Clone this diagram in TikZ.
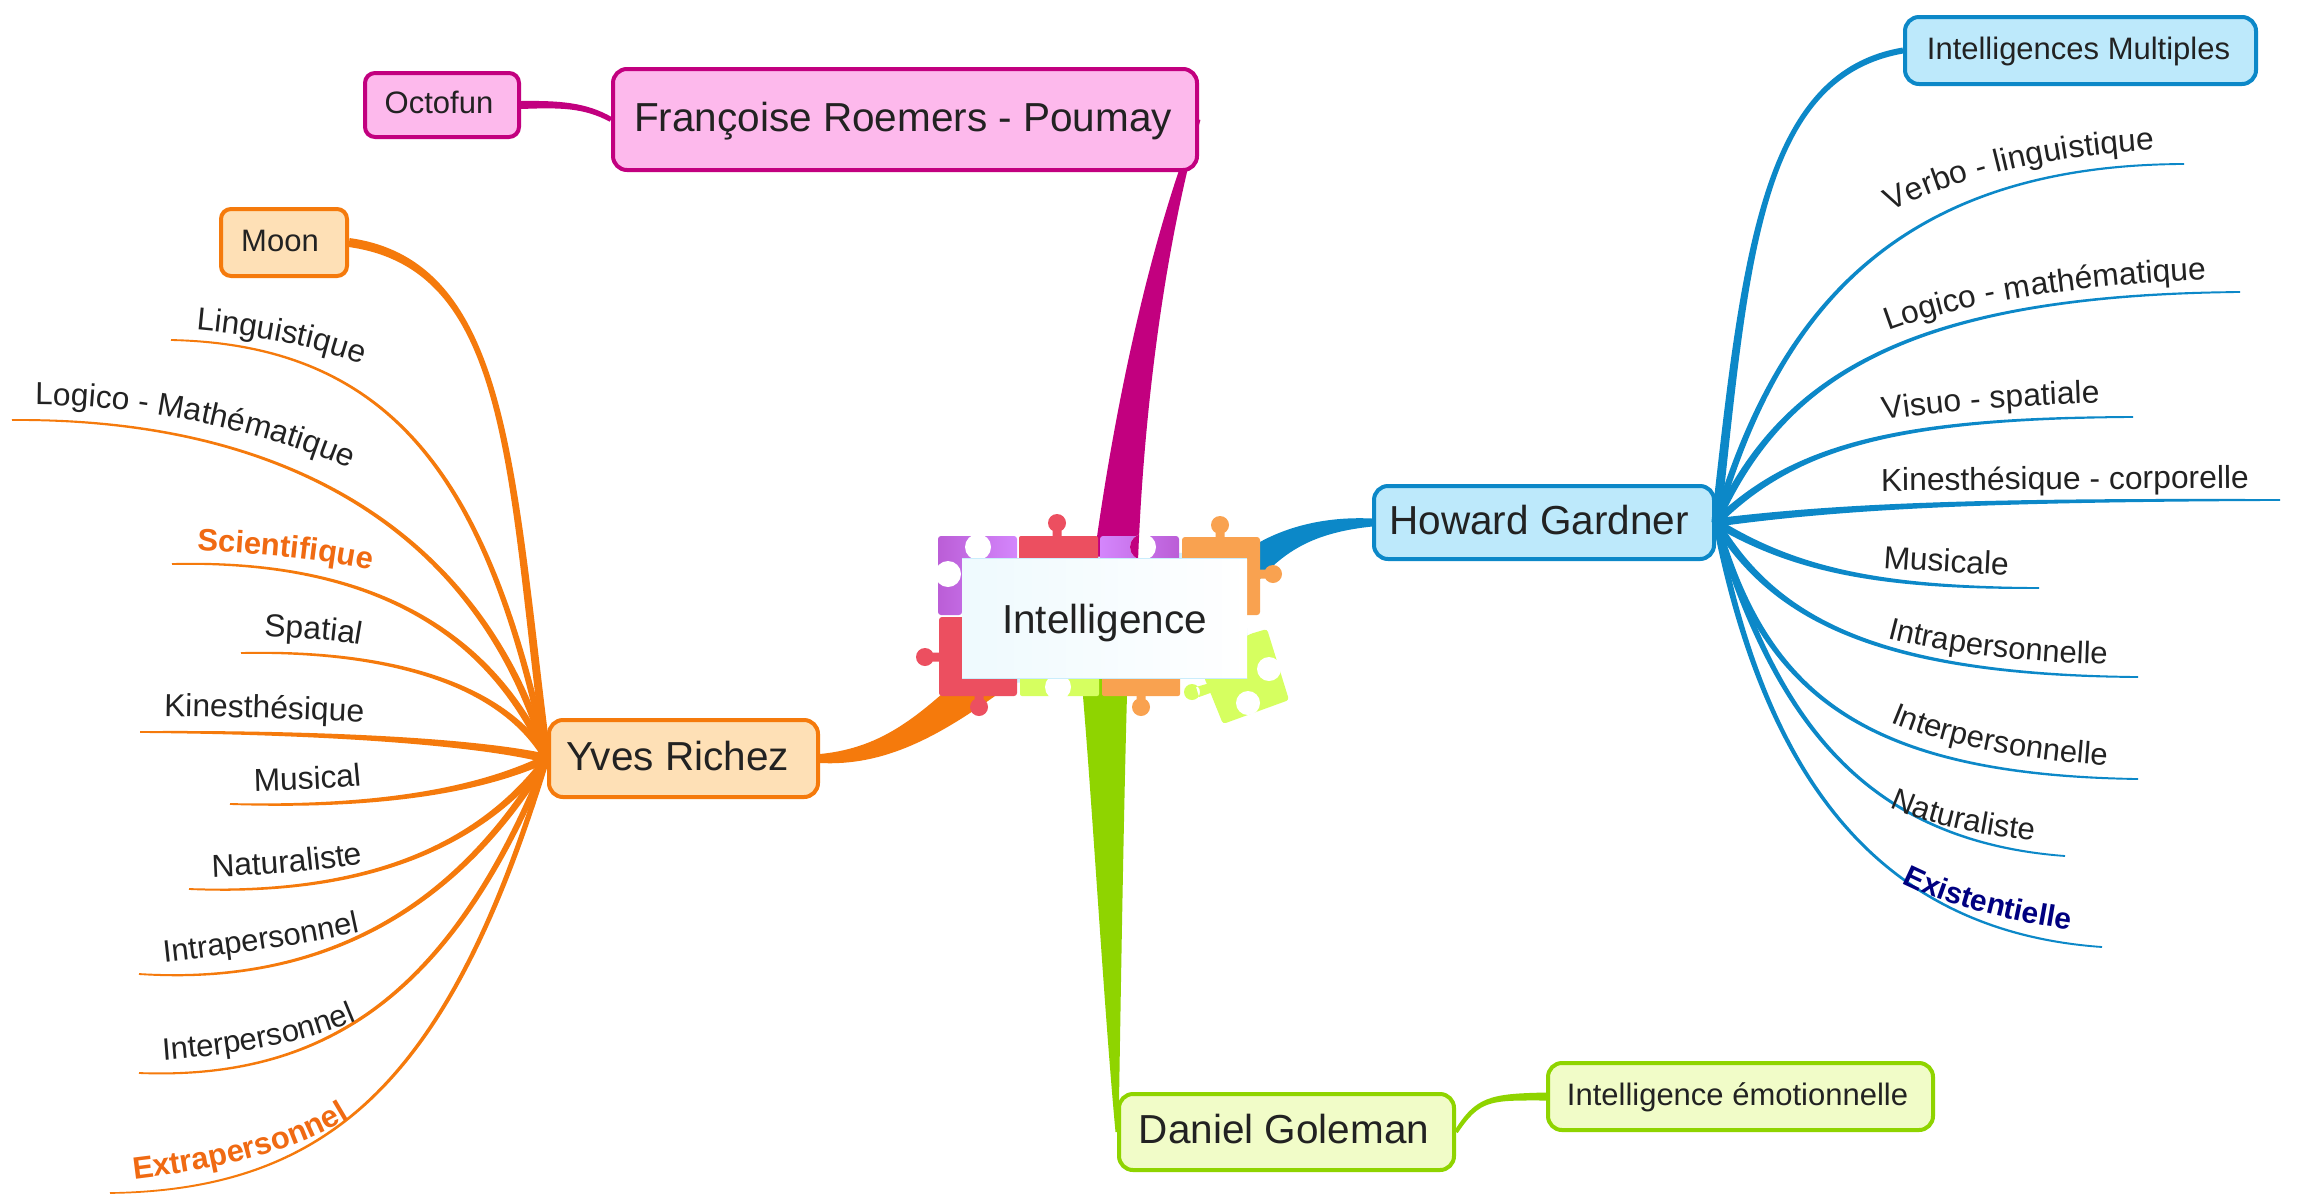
\documentclass[tikz,border=0pt]{standalone}
\usepackage{fontspec}
\setmainfont{Liberation Sans}
\usetikzlibrary{calc,decorations.text}
\pgfdeclarelayer{paper}
\pgfdeclarelayer{conn}
\pgfdeclarelayer{puzzle}
\pgfsetlayers{paper,conn,puzzle,main}
\definecolor{tx}{HTML}{222222}
\definecolor{orgL}{HTML}{F57A0C}
\definecolor{orgT}{HTML}{F06A12}
\definecolor{orgF}{HTML}{FEE0B6}
\definecolor{bluL}{HTML}{0C88C8}
\definecolor{bluF}{HTML}{BDE9FB}
\definecolor{magL}{HTML}{C2007F}
\definecolor{magF}{HTML}{FDB9EC}
\definecolor{grnL}{HTML}{8FD400}
\definecolor{grnF}{HTML}{F1FCC8}
\definecolor{nav}{HTML}{000080}
\definecolor{pzP}{HTML}{D486FC}
\definecolor{pzR}{HTML}{EC4F60}
\definecolor{pzO}{HTML}{F9A250}
\definecolor{pzG}{HTML}{D6FF60}
\newcommand\fmain{\fontsize{40.5}{48}\selectfont}
\newcommand\fsub{\fontsize{31}{37}\selectfont}
\newcommand\flab{\fontsize{31}{37}\selectfont\color{tx}}
\newcommand\flabB{\fontsize{31.8}{37}\selectfont\color{tx}}
\newcommand\flabO{\fontsize{31}{37}\selectfont\bfseries\color{orgT}}
\newcommand\flabN{\fontsize{30}{37}\selectfont\bfseries\color{nav}}
\newcommand\tapered[7]{%
  \pgfmathsetmacro\wa{#6+(#7-#6)/3}%
  \pgfmathsetmacro\wb{#6+2*(#7-#6)/3}%
  \fill[#1] let \p0=(#2),\p1=(#3),\p2=(#4),\p3=(#5),
    \n0={atan2(\y1-\y0,\x1-\x0)},\n1={atan2(\y3-\y2,\x3-\x2)} in
    ($(#2)+(\n0+90:#6pt)$) .. controls ($(#3)+(\n0+90:\wa pt)$) and ($(#4)+(\n1+90:\wb pt)$) .. ($(#5)+(\n1+90:#7pt)$)
    -- ($(#5)+(\n1-90:#7pt)$) .. controls ($(#4)+(\n1-90:\wb pt)$) and ($(#3)+(\n0-90:\wa pt)$) .. ($(#2)+(\n0-90:#6pt)$) -- cycle;}
\newcommand\curvelab[7]{%
  \path[decorate,decoration={text along path,text={|#1|#2}}]
    (#3) .. controls (#4) and (#5) .. (#6) -- ++(#7);}
\tikzset{
  box/.style 2 args={fill=#1,draw=#2,rounded corners=14pt,line width=4pt,inner sep=0pt,text=tx},
  mainbox/.style={font=\fmain,text height=29pt,text depth=6pt},
  subbox/.style={font=\fsub,text height=23pt,text depth=6pt},
  hole/.style={fill=white,draw=none},
}
\begin{document}
\begin{tikzpicture}[x=1pt,y=-1pt]
\useasboundingbox (0,0) rectangle (2298,1195);
\begin{pgfonlayer}{paper}
\fill[white] (0,0) rectangle (2298,1195);
\end{pgfonlayer}

% ---- nodes
\node[left color=bluF!25,right color=white,inner sep=0pt,minimum width=285pt,minimum height=119pt,
      font=\fmain,text=tx,text height=29pt,text depth=0pt] (central) at (1104.5,618.5) {Intelligence};
\node[box={magF}{magL},mainbox,minimum width=584pt,minimum height=101pt] (francoise) at (905,119.5) {Françoise Roemers - Poumay\kern4pt};
\node[box={magF}{magL},subbox,minimum width=154pt,minimum height=64pt,rounded corners=10pt] (octofun) at (442,105) {Octofun\kern6pt};
\node[box={orgF}{orgL},subbox,minimum width=126pt,minimum height=67pt,rounded corners=10pt] (moon) at (284,242.5) {Moon\kern8pt};
\node[box={orgF}{orgL},mainbox,minimum width=269pt,minimum height=77pt] (yves) at (683.5,758.5) {Yves Richez\kern12pt};
\node[box={bluF}{bluL},mainbox,minimum width=340pt,minimum height=73pt] (howard) at (1544,522.5) {Howard Gardner\kern10pt};
\node[box={bluF}{bluL},subbox,minimum width=351pt,minimum height=67pt] (multiples) at (2080.5,50.5) {Intelligences Multiples\kern4pt};
\node[box={grnF}{grnL},mainbox,minimum width=335pt,minimum height=76pt] (daniel) at (1286.5,1132) {Daniel Goleman\kern5pt};
\node[box={grnF}{grnL},subbox,minimum width=385pt,minimum height=67pt] (emo) at (1740.5,1096.5) {Intelligence émotionnelle\kern6pt};

% ---- thick connectors (behind the puzzle)
\begin{pgfonlayer}{conn}
\tapered{magL}{central.79}{1128,420}{1155,250}{francoise.east}{22}{1.5}
\tapered{grnL}{central.south}{1108,800}{1112,1000}{daniel.west}{23}{1.5}
\tapered{orgL}{central.207}{930,725}{885,757}{yves.east}{19}{4.5}
\tapered{bluL}{central.19}{1280,538}{1320,524}{howard.west}{16}{4}
\tapered{magL}{octofun.east}{560,104}{585,105}{francoise.west}{4}{2.5}
\tapered{grnL}{daniel.east}{1478,1098}{1490,1097}{emo.west}{2}{4}
\end{pgfonlayer}

% ---- puzzle frame
\begin{pgfonlayer}{puzzle}
\fill[bluF!70] (962,563) -- (1243,550) -- (1249,668) -- (966,686) -- cycle;
% purple corner
\shade[left color=pzP!70!violet,right color=pzP,rounded corners=3pt]
  (938,536) -- (1017,536) -- (1017,570) -- (962,570) -- (962,615) -- (938,615) -- cycle;
\fill[hole] (978,547) circle (13pt) (948,574) circle (13pt);
% red top
\fill[pzR,rounded corners=2pt] (1019,536) -- (1098,536) -- (1098,570) -- (1019,570) -- cycle;
\fill[pzR] (1057,523) circle (9pt) (1052.5,526) rectangle (1061.5,538);
% purple top
\shade[left color=pzP,right color=pzP!70!violet,rounded corners=3pt] (1100,536) -- (1179,536) -- (1179,570) -- (1100,570) -- cycle;
\fill[hole] (1143,547) circle (13pt);
\begin{scope}
\clip (1143,547) circle (13pt);
\tapered{magL}{central.79}{1128,420}{1155,250}{francoise.east}{22}{1.5}
\end{scope}
% orange top right
\fill[pzO,rounded corners=3pt] (1182,537) -- (1260,537) -- (1260,615) -- (1240,615) -- (1240,570) -- (1182,570) -- cycle;
\fill[pzO] (1220,525) circle (9pt) (1215.5,528) rectangle (1224.5,538) (1273,574) circle (9pt) (1259,569.5) rectangle (1268,578.5);
% red bottom left
\fill[pzR,rounded corners=3pt] (939,617) -- (970,617) -- (970,670) -- (1017,670) -- (1017,696) -- (939,696) -- cycle;
\fill[pzR] (925,657) circle (9pt) (928,652.5) rectangle (940,661.5) (979,707) circle (9pt) (974.5,694) rectangle (983.5,704);
% green bottom
\fill[pzG,rounded corners=2pt] (1020,670) -- (1099,670) -- (1099,696) -- (1020,696) -- cycle;
\fill[hole] (1058,687) circle (13pt);
% orange bottom
\fill[pzO,rounded corners=2pt] (1102,670) -- (1180,670) -- (1180,696) -- (1102,696) -- cycle;
\fill[pzO] (1141,707) circle (9pt) (1136.5,694) rectangle (1145.5,704);
% yellow rotated piece
\fill[pzG,rounded corners=3pt] (1240,640) -- (1250,634) -- (1267,629) -- (1289,700) -- (1223,724) -- (1202,672) -- cycle;
\fill[pzG] (1192,692) circle (8pt) (1196,687) -- (1210,683) -- (1213,692) -- (1199,697) -- cycle;
\fill[hole] (1269,669) circle (12pt) (1248,703) circle (12pt);
\end{pgfonlayer}

% ---- sheet edge
\draw[bluF!80,line width=1pt] (central.south west) -- (central.south east) (central.north west) -- (central.north east);

% ---- free ends of the Yves Richez branches
\coordinate (o1) at (171,340);
\coordinate (o2) at (12,420);
\coordinate (o3) at (172,564);
\coordinate (o4) at (241,653);
\coordinate (o5) at (140,732);
\coordinate (o6) at (230,804);
\coordinate (o7) at (189,889);
\coordinate (o8) at (139,974);
\coordinate (o9) at (139,1073);
\coordinate (o10) at (110,1193);
\tapered{orgL}{moon.east}{510,265}{510,470}{yves.west}{4.5}{4}
\tapered{orgL}{yves.west}{490,490}{400,345}{o1}{3.4}{.9}
\tapered{orgL}{yves.west}{490,560}{320,418}{o2}{3.8}{.9}
\tapered{orgL}{yves.west}{480,610}{340,560}{o3}{3.8}{.9}
\tapered{orgL}{yves.west}{500,680}{380,650}{o4}{3.8}{.9}
\tapered{orgL}{yves.west}{470,740}{300,732}{o5}{4.5}{.9}
\tapered{orgL}{yves.west}{480,790}{380,808}{o6}{4.2}{.9}
\tapered{orgL}{yves.west}{470,860}{340,895}{o7}{3.8}{.9}
\tapered{orgL}{yves.west}{450,920}{310,985}{o8}{3.6}{.9}
\tapered{orgL}{yves.west}{450,1000}{320,1080}{o9}{3.2}{.9}
\tapered{orgL}{yves.west}{450,1080}{330,1190}{o10}{2.8}{.8}

% ---- free ends of the Howard Gardner branches
\coordinate (b1) at (2184,164);
\coordinate (b2) at (2240,292);
\coordinate (b3) at (2133,417);
\coordinate (b4) at (2280,500);
\coordinate (b5) at (2039,588);
\coordinate (b6) at (2138,677);
\coordinate (b7) at (2138,779);
\coordinate (b8) at (2065,856);
\coordinate (b9) at (2102,947);
\tapered{bluL}{howard.east}{1745,260}{1760,75}{multiples.west}{4.6}{3}
\tapered{bluL}{howard.east}{1775,320}{1890,165}{b1}{3.4}{.9}
\tapered{bluL}{howard.east}{1785,370}{1920,295}{b2}{3.8}{.9}
\tapered{bluL}{howard.east}{1795,445}{1900,418}{b3}{3.8}{.9}
\tapered{bluL}{howard.east}{1850,505}{2000,500}{b4}{4.2}{.9}
\tapered{bluL}{howard.east}{1795,570}{1880,588}{b5}{4}{.9}
\tapered{bluL}{howard.east}{1775,620}{1880,675}{b6}{4}{.9}
\tapered{bluL}{howard.east}{1765,690}{1860,775}{b7}{3.8}{.9}
\tapered{bluL}{howard.east}{1770,700}{1850,840}{b8}{3.5}{.9}
\tapered{bluL}{howard.east}{1760,750}{1860,930}{b9}{3.2}{.9}

% ---- labels following the branches
\curvelab{\flabB}{Linguistique}{196,330}{252,335}{310,345}{362,364}{30,13}
\curvelab{\flabB}{Logico - Mathématique}{35,405}{130,405}{250,425}{354,470}{30,15}
\curvelab{\flabO}{Scientifique}{197,551}{250,553}{320,558}{372,570}{30,8}
\curvelab{\flabB}{Spatial}{264,637}{300,638}{335,640}{362,645}{30,6}
\curvelab{\flabB}{Kinesthésique}{164,716}{230,717}{300,719}{361,722}{30,2}
\curvelab{\flabB}{Musical}{254,791}{290,790}{330,789}{361,786}{30,-3}
\curvelab{\flabB}{Naturaliste}{212,877}{260,875}{310,872}{359,864}{30,-5}
\curvelab{\flab}{Intrapersonnel}{164,962}{230,955}{300,945}{360,932}{30,-7}
\curvelab{\flab}{Interpersonnel}{163,1060}{230,1055}{300,1045}{358,1020}{30,-13}
\curvelab{\flabO}{Extrapersonnel}{134,1179}{210,1170}{290,1155}{351,1117}{30,-18}
\curvelab{\flabB}{Verbo - linguistique}{1891,212}{1950,180}{2050,155}{2153,150}{30,-1}
\curvelab{\flabB}{Logico - mathématique}{1888,331}{1970,300}{2090,285}{2208,279}{30,-1}
\curvelab{\flabB}{Visuo - spatiale}{1883,420}{1950,410}{2030,405}{2101,403}{30,-1}
\curvelab{\flabB}{Kinesthésique - corporelle}{1881,491}{2000,490}{2130,489}{2248,488}{30,0}
\curvelab{\flabB}{Musicale}{1883,568}{1925,571}{1965,573}{2007,575}{30,2}
\curvelab{\flab}{Intrapersonnelle}{1887,638}{1940,652}{2020,662}{2105,664}{30,1}
\curvelab{\flab}{Interpersonnelle}{1890,722}{1945,745}{2020,760}{2105,765}{30,2}
\curvelab{\flab}{Naturaliste}{1890,807}{1930,825}{1980,835}{2035,841}{30,3}
\curvelab{\flabN}{Existentielle}{1902,883}{1945,905}{2005,920}{2072,930}{30,4}
\end{tikzpicture}
\end{document}
